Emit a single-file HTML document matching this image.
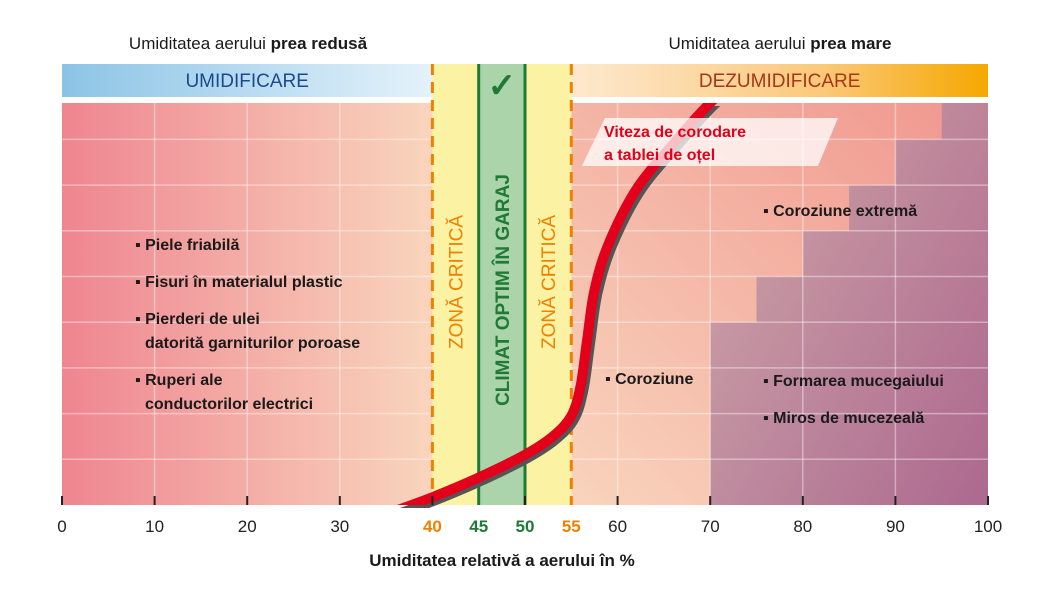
<!DOCTYPE html>
<html><head><meta charset="utf-8"><style>
body{margin:0;background:#fff;}
svg text{font-family:"Liberation Sans",sans-serif;}
</style></head><body>
<svg width="1050" height="600" viewBox="0 0 1050 600">
<defs>
<linearGradient id="gl" x1="0" x2="1"><stop offset="0" stop-color="#ef8590"/><stop offset="1" stop-color="#f9d5bd"/></linearGradient>
<linearGradient id="gr" x1="0" y1="1" x2="1" y2="0"><stop offset="0" stop-color="#f9d4bd"/><stop offset="1" stop-color="#f0968e"/></linearGradient>
<linearGradient id="gp" x1="0" y1="0" x2="1" y2="1"><stop offset="0" stop-color="#c9a7aa"/><stop offset="1" stop-color="#a05b8b"/></linearGradient>
<linearGradient id="gb" x1="0" x2="1"><stop offset="0" stop-color="#8cc4e6"/><stop offset="1" stop-color="#e4f2fb"/></linearGradient>
<linearGradient id="go" x1="0" x2="1"><stop offset="0" stop-color="#fde9cf"/><stop offset="0.6" stop-color="#fbc97a"/><stop offset="1" stop-color="#f5a800"/></linearGradient>
</defs>
<g id="plot"></g>
</svg>
<script>
const ticks=[0,10,20,30,40,45,50,55,60,70,80,90,100];
const tickColors=['#222','#222','#222','#222','#f08000','#1f7a35','#1f7a35','#f08000','#222','#222','#222','#222','#222'];
const curveX=[35,40,45,50,53,55,56,56.7,57.5,59,62,66,70,74];
const curveY=[-0.2,0.17,0.6,1.1,1.5,1.95,2.6,3.6,4.7,5.7,6.9,7.9,8.8,9.5];
const stepX=[70,75,80,85,90,95];
const stepY=[4,5,6,7,8,9];
const X0=62,X1=988,YB=505,YT=103,U=45.7;
const sx=v=>X0+(X1-X0)*v/100, sy=v=>YB-v*U;
const NS='http://www.w3.org/2000/svg';
const g=document.getElementById('plot');
function mk(t,a,txt){const e=document.createElementNS(NS,t);for(const k in a)e.setAttribute(k,a[k]);if(txt!=null)e.textContent=txt;g.appendChild(e);return e;}
let e;
e=mk('rect',{x:sx(0),y:YT,width:sx(40)-sx(0),height:YB-YT,fill:'url(#gl)'});


e=mk('rect',{x:sx(55),y:YT,width:sx(100)-sx(55),height:YB-YT,fill:'url(#gr)'});


let d='M'+sx(100)+','+YB+' L'+sx(stepX[0])+','+YB;
for(let i=0;i<stepX.length;i++){d+=' L'+sx(stepX[i])+','+Math.max(sy(stepY[i]),YT);if(i+1<stepX.length)d+=' L'+sx(stepX[i+1])+','+Math.max(sy(stepY[i]),YT);}
d+=' L'+sx(100)+','+YT+' Z';
e=mk('path',{d:d,fill:'url(#gp)',opacity:0.85});


for(let i=1;i<9;i++){e=mk('line',{x1:sx(0),x2:sx(100),y1:sy(i),y2:sy(i),stroke:'#fff',"stroke-opacity":0.4,"stroke-width":1.5});

}
[10,20,30,60,70,80,90].forEach(v=>{e=mk('line',{x1:sx(v),x2:sx(v),y1:YT,y2:YB,stroke:'#fff',"stroke-opacity":0.4,"stroke-width":1.5});

});
e=mk('rect',{x:sx(0),y:64,width:sx(40)-sx(0),height:33,fill:'url(#gb)'});


e=mk('rect',{x:sx(55),y:64,width:sx(100)-sx(55),height:33,fill:'url(#go)'});


e=mk('text',{x:(sx(0)+sx(40))/2,y:87,"text-anchor":"middle","font-size":19,fill:'#1b4a8c'},'UMIDIFICARE');


e=mk('text',{x:(sx(55)+sx(100))/2,y:87,"text-anchor":"middle","font-size":19,fill:'#a83618'},'DEZUMIDIFICARE');


e=mk('rect',{x:sx(40),y:64,width:sx(55)-sx(40),height:YB-64,fill:'#fbf2a3'});


e=mk('rect',{x:sx(45),y:64,width:sx(50)-sx(45),height:YB-64,fill:'#abd4ab'});


[45,50].forEach(v=>{e=mk('line',{x1:sx(v),x2:sx(v),y1:64,y2:YB,stroke:'#1f7a35',"stroke-width":3});

});
[40,55].forEach(v=>{e=mk('line',{x1:sx(v),x2:sx(v),y1:64,y2:YB,stroke:'#f08000',"stroke-width":3,"stroke-dasharray":"11,7"});

});
e=mk('text',{x:(sx(45)+sx(50))/2,y:97,"text-anchor":"middle","font-size":34,"font-weight":"bold",fill:'#1f7a35'},'✓');


function vt(x,y,txt,c,w,n){const t=mk('text',{x:0,y:0,"text-anchor":"middle","font-size":19,"font-weight":w,fill:c,transform:`translate(${x},${y}) rotate(-90)`},txt);}
vt(sx(42.5)+7,282,'ZONĂ CRITICĂ','#f08000','normal','critical-zone-label-left');
vt(sx(52.5)+7,282,'ZONĂ CRITICĂ','#f08000','normal','critical-zone-label-right');
vt(sx(47.5)+7,290,'CLIMAT OPTIM ÎN GARAJ','#1f7a35','bold','optimal-zone-label');
// smooth curve (Catmull-Rom)
const P=curveX.map((v,i)=>[sx(v),sy(curveY[i])]);
let cp='M'+P[0][0]+','+P[0][1];
for(let i=0;i<P.length-1;i++){const p0=P[Math.max(i-1,0)],p1=P[i],p2=P[i+1],p3=P[Math.min(i+2,P.length-1)];
cp+=` C${p1[0]+(p2[0]-p0[0])/6},${p1[1]+(p2[1]-p0[1])/6} ${p2[0]-(p3[0]-p1[0])/6},${p2[1]-(p3[1]-p1[1])/6} ${p2[0]},${p2[1]}`;}
mk('clipPath',{id:'cc'});
const cc=g.lastChild;const cr=document.createElementNS(NS,'rect');cr.setAttribute('x',0);cr.setAttribute('y',YT);cr.setAttribute('width',1050);cr.setAttribute('height',YB-YT);cc.appendChild(cr);
e=mk('path',{d:cp,fill:'none',stroke:'#555',"stroke-width":10,"stroke-linejoin":"round",transform:'translate(3,3)',"clip-path":'url(#cc)'});


e=mk('path',{d:cp,fill:'none',stroke:'#e2001a',"stroke-width":10,"stroke-linejoin":"round","clip-path":'url(#cc)'});


e=mk('polygon',{points:'605,118 838,118 818,166 582,166',fill:'#fff',opacity:0.75});


e=mk('text',{x:604,y:137,"font-size":16,"font-weight":"bold",fill:'#e2001a'},'Viteza de corodare');


e=mk('text',{x:604,y:160,"font-size":16,"font-weight":"bold",fill:'#e2001a'},'a tablei de oțel');


const notes=[[135,250,'▪ Piele friabilă'],[135,287,'▪ Fisuri în materialul plastic'],[135,324,'▪ Pierderi de ulei'],[145,348,'datorită garniturilor poroase'],[135,385,'▪ Ruperi ale'],[145,409,'conductorilor electrici'],[605,384,'▪ Coroziune'],[763,216,'▪ Coroziune extremă'],[763,386,'▪ Formarea mucegaiului'],[763,423,'▪ Miros de mucezeală']];
notes.forEach(n=>{e=mk('text',{x:n[0],y:n[1],"font-size":16,"font-weight":"bold",fill:'#1a1a1a'},n[2]);

});
ticks.forEach((v,i)=>{
 if(v%10===0){e=mk('line',{x1:sx(v),x2:sx(v),y1:YB-9,y2:YB,stroke:'#222',"stroke-width":2});
 
 }
 const bold=tickColors[i]!=='#222';
 e=mk('text',{x:sx(v),y:532,"text-anchor":"middle","font-size":17,"font-weight":bold?'bold':'normal',fill:tickColors[i]},String(v));
 
 
});
e=mk('text',{x:502,y:566,"text-anchor":"middle","font-size":17,"font-weight":"bold",fill:'#1a1a1a'},'Umiditatea relativă a aerului în %');


e=mk('text',{x:248,y:49,"text-anchor":"middle","font-size":17,fill:'#1a1a1a'});
e.innerHTML='Umiditatea aerului <tspan font-weight="bold">prea redusă</tspan>';


e=mk('text',{x:780,y:49,"text-anchor":"middle","font-size":17,fill:'#1a1a1a'});
e.innerHTML='Umiditatea aerului <tspan font-weight="bold">prea mare</tspan>';


</script>
</body></html>
